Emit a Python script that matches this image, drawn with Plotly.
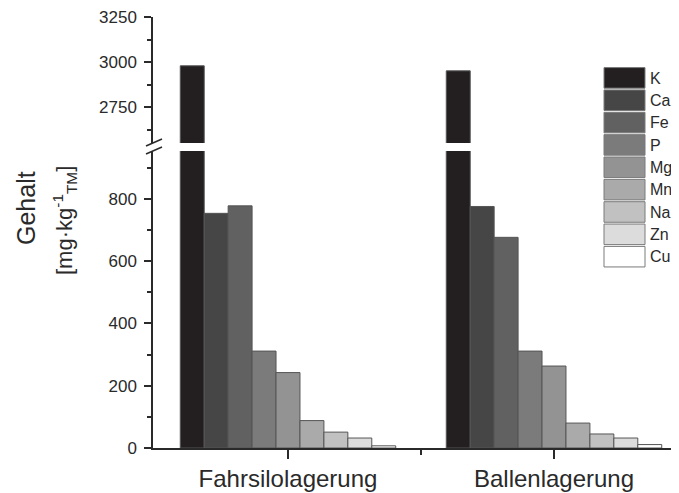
import plotly.graph_objects as go

# ---------------- data ----------------
categories = ["Fahrsilolagerung", "Ballenlagerung"]
elements = ["K", "Ca", "Fe", "P", "Mg", "Mn", "Na", "Zn", "Cu"]
fahrsilo = [2980, 753, 777, 311, 242, 88, 51, 32, 7]
ballen = [2952, 775, 676, 311, 263, 80, 45, 32, 11]
colors = ["#231f20", "#464646", "#616161", "#7b7b7b", "#939393",
          "#aaaaaa", "#c1c1c1", "#dcdcdc", "#ffffff"]
lower_ticks = [0, 200, 400, 600, 800]
upper_ticks = [2750, 3000, 3250]

# ---------------- layout constants (pixels of the reference) ----------------
OFF = 8  # page body margin
W, H = 679 - 2 * OFF, 493 - OFF
AX_L, AX_B, AX_T = 153, 448, 17       # reference pixel positions
ML = AX_L - OFF
MT = AX_T - OFF
MB = H - (AX_B - OFF)
MR = 0
PW, PH = W - ML - MR, H - MT - MB


def py(p):  # reference pixel y -> paper y
    return (AX_B - p) / PH


def px(p):  # reference pixel x -> paper x
    return (p - AX_L) / PW


xpos = [1, 2]
font = "Liberation Sans, Arial, sans-serif"
txt = "#2a2a2a"
axc = "#2a2a2a"

fig = go.Figure()
for i, el in enumerate(elements):
    vals = [fahrsilo[i], ballen[i]]
    for ya in ["y", "y2"]:
        fig.add_trace(go.Bar(
            x=xpos, y=vals, name=el, yaxis=ya, xaxis="x",
            marker=dict(color=colors[i], line=dict(color="#555555", width=1)),
            showlegend=False,
        ))

lower_dom = [0, py(151)]
upper_dom = [py(143), 1]
x0 = 1 - (288 - AX_L) / 266

fig.update_layout(
    width=W, height=H,
    margin=dict(l=ML, r=MR, t=MT, b=MB, autoexpand=False),
    paper_bgcolor="white", plot_bgcolor="white",
    barmode="group", bargap=0.19, bargroupgap=0,
    font=dict(family=font, color=txt, size=17),
    xaxis=dict(
        range=[x0, x0 + PW / 266],
        tickvals=xpos, ticktext=categories,
        tickfont=dict(size=24, color=txt),
        showline=True, linecolor=axc, linewidth=1.5,
        ticks="outside", ticklen=9, tickwidth=1.5, tickcolor=axc,
        minor=dict(tickmode="array", tickvals=[1.5], ticks="outside",
                   ticklen=5, tickwidth=1.5, tickcolor=axc),
        ticklabelstandoff=-1,
        showgrid=False, zeroline=False, anchor="y",
    ),
    yaxis=dict(
        domain=lower_dom, range=[0, 953],
        tickvals=lower_ticks,
        showline=True, linecolor=axc, linewidth=1.5,
        ticks="outside", ticklen=7, tickwidth=1.5, tickcolor=axc,
        minor=dict(dtick=100, tick0=0, ticks="outside", ticklen=4,
                   tickwidth=1.5, tickcolor=axc),
        ticklabelstandoff=4,
        showgrid=False, zeroline=False,
    ),
    yaxis2=dict(
        domain=upper_dom, range=[2550, 3252],
        tickvals=upper_ticks,
        showline=True, linecolor=axc, linewidth=1.5,
        ticks="outside", ticklen=7, tickwidth=1.5, tickcolor=axc,
        minor=dict(tickmode="array", tickvals=[2625, 2875, 3125],
                   ticks="outside", ticklen=4, tickwidth=1.5, tickcolor=axc),
        ticklabelstandoff=4,
        showgrid=False, zeroline=False, anchor="x",
    ),
)

shapes = []
# axis break marks
for y0 in [146, 154]:
    shapes.append(dict(type="line", xref="paper", yref="paper",
                       x0=px(146), x1=px(162), y0=py(y0), y1=py(y0 - 7),
                       line=dict(color=axc, width=1.5)))

# legend (built from element names and colors)
annotations = []
leg_top, leg_h = 67, 22.35
for i, el in enumerate(elements):
    t = leg_top + i * leg_h
    shapes.append(dict(type="rect", xref="paper", yref="paper",
                       x0=px(604), x1=px(645), y0=py(t + leg_h - 1.2), y1=py(t + 0.6),
                       fillcolor=colors[i], line=dict(color="#7a7a7a", width=1)))
    annotations.append(dict(x=px(648), y=py(t + leg_h / 2), xref="paper", yref="paper",
                            text=el, showarrow=False, xanchor="left", yanchor="middle",
                            font=dict(size=16, color=txt)))

# y axis title
annotations.append(dict(x=px(26), y=py(208), xref="paper", yref="paper",
                        text="Gehalt", textangle=-90, showarrow=False,
                        xanchor="center", yanchor="middle",
                        font=dict(size=25, color=txt)))
annotations.append(dict(x=px(64), y=py(221), xref="paper", yref="paper",
                        text="[mg·kg<sup>-1</sup><sub>TM</sub>]", textangle=-90,
                        showarrow=False, xanchor="center", yanchor="middle",
                        font=dict(size=22, color=txt)))

fig.update_layout(shapes=shapes, annotations=annotations)
fig.write_html("out.html")
